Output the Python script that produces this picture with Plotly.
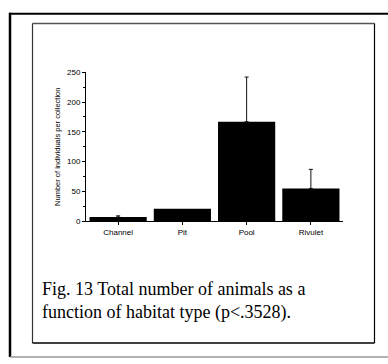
import plotly.graph_objects as go

# Mean number of individuals per collection, by habitat type
habitats = ["Channel", "Pit", "Pool", "Rivulet"]
mean_counts = [7, 21, 167, 55]
err_upper = [2, 0, 75, 32]

W, H = 388, 364


def px(x):
    return x / W


def py(y):
    return 1 - y / H


fig = go.Figure(
    go.Bar(
        x=habitats,
        y=mean_counts,
        marker=dict(color="black", line=dict(width=0)),
        error_y=dict(
            type="data",
            symmetric=False,
            # a zero-length bar gets no whisker at all
            array=[e if e > 0 else "NaN" for e in err_upper],
            arrayminus=[0 if e > 0 else "NaN" for e in err_upper],
            color="#111111",
            thickness=1,
            width=2,
        ),
    )
)

axis_font = dict(family="Liberation Sans, Arial, sans-serif", size=8, color="black")

fig.update_layout(
    width=W,
    height=H,
    margin=dict(l=0, r=0, t=0, b=0),
    paper_bgcolor="white",
    plot_bgcolor="white",
    showlegend=False,
    bargap=0.11,
    xaxis=dict(
        domain=[px(86), px(343)],
        range=[-0.5, 3.5],
        showline=True,
        linecolor="black",
        linewidth=1,
        ticks="outside",
        ticklen=3,
        tickcolor="black",
        showgrid=False,
        tickfont=axis_font,
        fixedrange=True,
    ),
    yaxis=dict(
        domain=[py(222.7), py(70)],
        range=[0, 250],
        tickvals=[0, 50, 100, 150, 200, 250],
        showline=True,
        linecolor="black",
        linewidth=1,
        ticks="outside",
        ticklen=3,
        tickcolor="black",
        minor=dict(tickvals=[25, 75, 125, 175, 225], ticks="outside", ticklen=2, tickcolor="black"),
        showgrid=False,
        zeroline=False,
        tickfont=axis_font,
        title=dict(
            text="Number of individuals per collection",
            font=dict(family="Liberation Sans, Arial, sans-serif", size=7.5, color="black"),
            standoff=5,
        ),
    ),
)

# Caption below the chart
fig.add_annotation(
    xref="paper", yref="paper",
    x=px(40), y=py(280),
    xanchor="left", yanchor="top",
    align="left",
    showarrow=False,
    text="Fig. 13 Total number of animals as a<br>function of habitat type (p&lt;.3528).",
    font=dict(family="Liberation Serif, Times New Roman, serif", size=18, color="black"),
)

# Page frame: heavy top/left rule and light bottom rule
frame = [
    dict(x0=px(9), x1=1, y0=py(10), y1=py(10), color="black", width=2),
    dict(x0=px(10), x1=px(10), y0=py(9), y1=py(362), color="black", width=2.5),
    dict(x0=px(10), x1=1, y0=py(362), y1=py(362), color="#999999", width=1.5),
    # Inner panel box
    dict(x0=px(32.5), x1=px(374.5), y0=py(20), y1=py(20), color="#555555", width=1.5),
    dict(x0=px(32.5), x1=px(32.5), y0=py(20), y1=py(347.5), color="#333333", width=1.2),
    dict(x0=px(374.5), x1=px(374.5), y0=py(20), y1=py(347.5), color="black", width=1.2),
    dict(x0=px(32.5), x1=px(374.5), y0=py(347.5), y1=py(347.5), color="black", width=1.5),
]
for f in frame:
    fig.add_shape(
        type="line", xref="paper", yref="paper",
        x0=f["x0"], x1=f["x1"], y0=f["y0"], y1=f["y1"],
        line=dict(color=f["color"], width=f["width"]),
    )

fig.write_html("out.html")
